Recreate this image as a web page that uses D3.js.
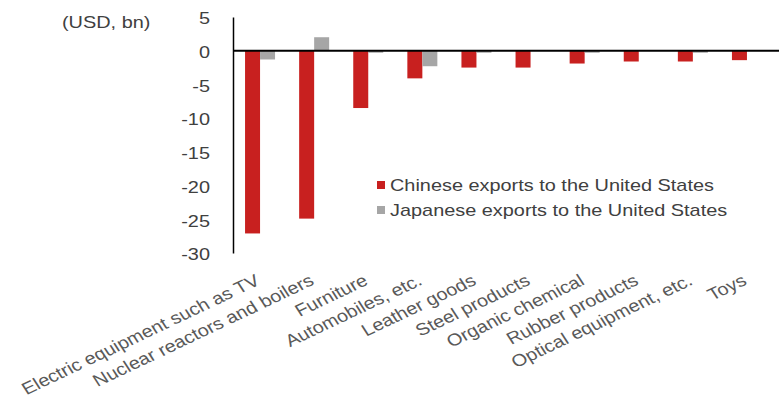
<!DOCTYPE html>
<html>
<head>
<meta charset="utf-8">
<script src="https://cdn.jsdelivr.net/npm/d3@7"></script>
<style>
  body { margin: 0; background: #fff; }
  svg text { font-family: "Liberation Sans", Arial, sans-serif; }
</style>
</head>
<body>
<div class="chart"></div>
<script>
const categories = ['Electric equipment such as TV', 'Nuclear reactors and boilers', 'Furniture',
  'Automobiles, etc.', 'Leather goods', 'Steel products', 'Organic chemical', 'Rubber products',
  'Optical equipment, etc.', 'Toys']
const chinaValues = [-27.1, -24.9, -8.5, -4.1, -2.5, -2.5, -1.9, -1.6, -1.6, -1.4]
const japanValues = [-1.3, 2.0, -0.3, -2.3, -0.3, 0, -0.3, 0, -0.3, 0]
const yTicks = [5, 0, -5, -10, -15, -20, -25, -30]
const seriesNames = ['Chinese exports to the United States', 'Japanese exports to the United States']
const colors = ['#C8201F', '#A6A6A6']

const width = 779, height = 400
const margin = {top: 17, right: 5, bottom: 147, left: 233}
// text in the source is a bit wider than the font, so stretch it sideways
const sx = 1.17

const svg = d3.select('.chart').append('svg')
  .attr('width', width)
  .attr('height', height)

const xScale = d3.scaleBand()
  .domain(categories)
  .range([margin.left, 774])
  .paddingInner(0)
  .paddingOuter(0)

const yScale = d3.scaleLinear()
  .domain([-30, 5])
  .range([height - margin.bottom, margin.top])

const barW = 15

const data = categories.map((c, i) => ({cat: c, vals: [chinaValues[i], japanValues[i]]}))

const groups = svg.selectAll('.grp')
  .data(data)
  .enter()
  .append('g')
  .attr('class', 'grp')

groups.selectAll('rect')
  .data(d => d.vals.map((v, j) => ({cat: d.cat, v: v, j: j})))
  .enter()
  .append('rect')
  .attr('x', d => xScale(d.cat) + xScale.bandwidth() / 2 - barW + d.j * barW)
  .attr('y', d => yScale(Math.max(0, d.v)))
  .attr('width', barW)
  .attr('height', d => Math.abs(yScale(d.v) - yScale(0)))
  .attr('fill', d => colors[d.j])

// y axis
const yAxis = d3.axisLeft(yScale)
  .tickValues(yTicks)
  .tickSize(0)
  .tickFormat(d => String(d))

const yG = svg.append('g')
  .attr('transform', `translate(${margin.left},0)`)
  .call(yAxis)
yG.select('.domain').attr('stroke', '#000').attr('stroke-width', 1.5)
yG.selectAll('.tick text')
  .attr('x', 0)
  .attr('transform', `translate(-23,0) scale(${sx},1)`)
  .attr('font-size', 17)
  .attr('fill', '#404040')
  .attr('dy', '0.4em')
  .style('font-family', '"Liberation Sans", Arial, sans-serif')

// zero line
svg.append('line')
  .attr('x1', margin.left)
  .attr('x2', width)
  .attr('y1', yScale(0))
  .attr('y2', yScale(0))
  .attr('stroke', '#000')
  .attr('stroke-width', 2)

// category labels
svg.selectAll('.cat-label')
  .data(categories)
  .enter()
  .append('text')
  .attr('class', 'cat-label')
  .attr('transform', d => `translate(${xScale(d) + xScale.bandwidth() / 2 + 1},284) scale(${sx},1) rotate(-29)`)
  .attr('text-anchor', 'end')
  .attr('font-size', 17)
  .attr('fill', '#595959')
  .text(d => d)

// unit label
svg.append('text')
  .attr('transform', `translate(62,28) scale(${sx},1)`)
  .attr('font-size', 17)
  .attr('fill', '#404040')
  .text('(USD, bn)')

// legend
const legend = svg.selectAll('.legend')
  .data(seriesNames)
  .enter()
  .append('g')
  .attr('class', 'legend')
  .attr('transform', (d, i) => `translate(377,${185 + i * 25})`)

legend.append('rect')
  .attr('x', 0)
  .attr('y', -4)
  .attr('width', 8)
  .attr('height', 8)
  .attr('fill', (d, i) => colors[i])

legend.append('text')
  .attr('transform', `translate(13,6) scale(${sx},1)`)
  .attr('font-size', 17)
  .attr('fill', '#404040')
  .text(d => d)
</script>
</body>
</html>
